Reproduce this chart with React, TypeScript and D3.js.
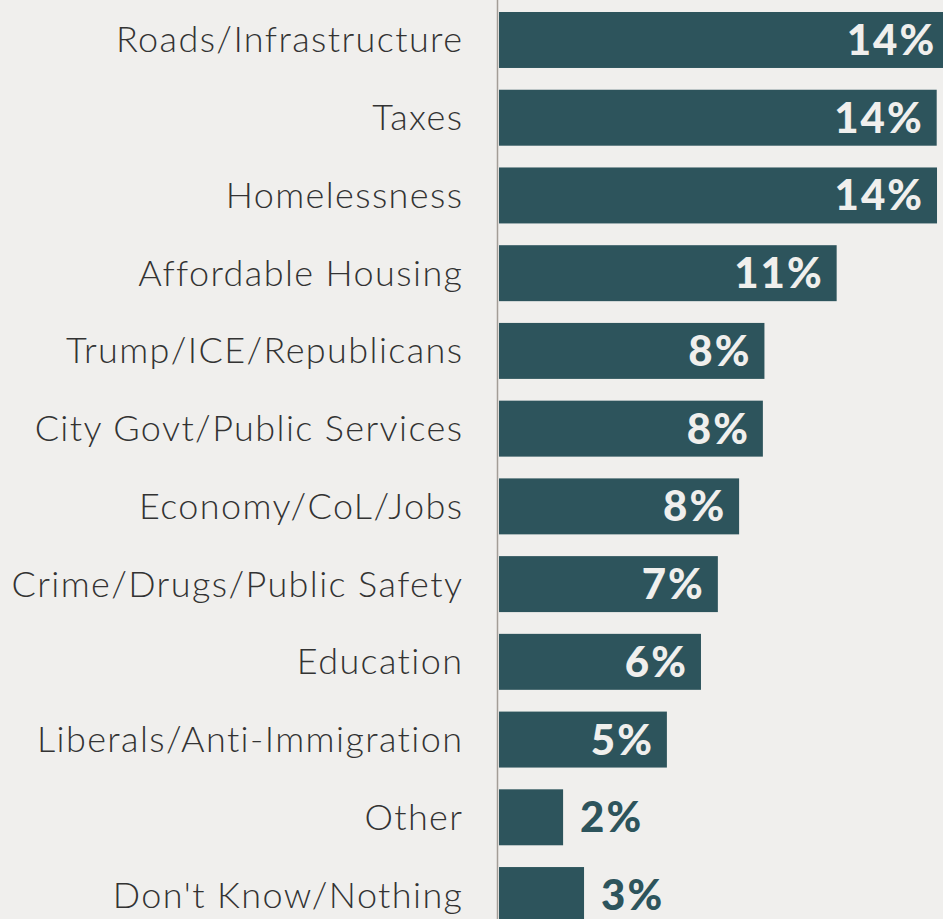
import React from "react";
import * as d3 from "d3";

const categories = [
  "Roads/Infrastructure",
  "Taxes",
  "Homelessness",
  "Affordable Housing",
  "Trump/ICE/Republicans",
  "City Govt/Public Services",
  "Economy/CoL/Jobs",
  "Crime/Drugs/Public Safety",
  "Education",
  "Liberals/Anti-Immigration",
  "Other",
  "Don't Know/Nothing",
];
const values = [14.4, 14.0, 14.01, 10.8, 8.49, 8.44, 7.68, 7.0, 6.46, 5.37, 2.05, 2.72];
const valueLabels = ["14%", "14%", "14%", "11%", "8%", "8%", "8%", "7%", "6%", "5%", "2%", "3%"];

const W = 943;
const H = 919;
const BG = "#f0efed";
const BAR = "#2d545c";

export default function App() {
  const x = d3.scaleLinear().domain([0, 14]).range([499, 936.7]);
  const y = d3
    .scaleBand<string>()
    .domain(categories)
    .range([1.12, 933.9])
    .paddingInner(0.28)
    .paddingOuter(0.14);

  return (
    <div style={{ position: "fixed", left: 0, top: 0, width: W, height: H, background: BG }}>
      <svg width={W} height={H} style={{ display: "block" }}>
        <rect x={0} y={0} width={W} height={H} fill={BG} />
        {categories.map((c, i) => {
          const y0 = y(c)!;
          const bw = y.bandwidth();
          const x1 = x(values[i]);
          const inside = x1 - x(0) > 120;
          return (
            <g key={c}>
              <rect x={x(0)} y={y0} width={x1 - x(0)} height={bw} fill={BAR} />
              <text
                x={462 + 1.4}
                y={y0 + bw / 2 + 12.5}
                textAnchor="end"
                fontFamily="Lato"
                fontWeight={300}
                fontSize={36}
                letterSpacing={1.4}
                style={{ fontVariantLigatures: "none" }}
                fill="#333"
              >
                {c}
              </text>
              <text
                x={inside ? x1 - 13 : x1 + 17}
                y={y0 + bw / 2 + 15}
                textAnchor={inside ? "end" : "start"}
                fontFamily="Lato"
                fontWeight={900}
                fontSize={42}
                letterSpacing={2}
                fill={inside ? BG : BAR}
              >
                {valueLabels[i]}
              </text>
            </g>
          );
        })}
        <line x1={497.5} x2={497.5} y1={0} y2={H} stroke="#a39d97" strokeWidth={1.5} />
      </svg>
    </div>
  );
}
